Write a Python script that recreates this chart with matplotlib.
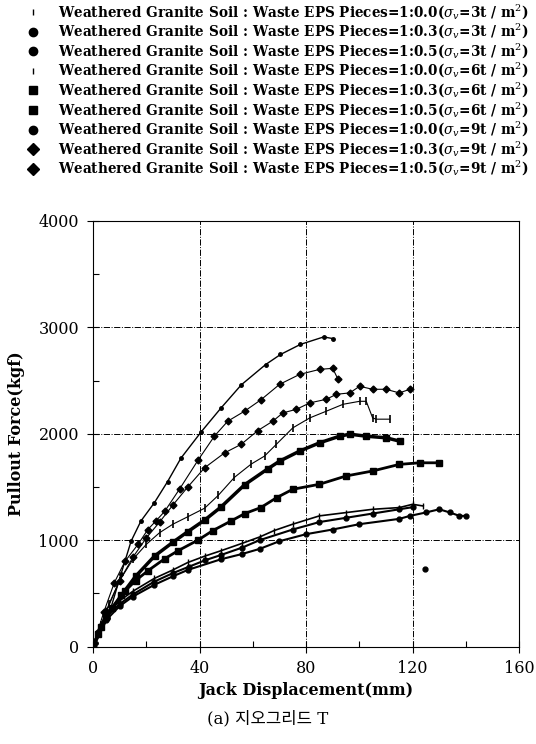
import matplotlib
matplotlib.use("Agg")
import matplotlib.pyplot as plt
from matplotlib.lines import Line2D

plt.rcParams['font.family'] = ['DejaVu Serif', 'Noto Sans CJK KR']
plt.rcParams['mathtext.fontset'] = 'dejavuserif'
plt.rcParams['axes.labelweight'] = 'bold'

# pullout test curves: jack displacement (mm) vs pullout force (kgf)
x_9t_00 = [0, 1, 5.6, 10.5, 14.3, 18, 23, 28, 33, 40.7, 48, 55.7, 64.8, 70.4, 77.9, 86.6, 90]
y_9t_00 = [0, 30, 270, 680, 990, 1180, 1350, 1550, 1770, 2020, 2240, 2460, 2650, 2745, 2840, 2910, 2895]

x_9t_03 = [0, 4, 8, 12, 16.9, 20.6, 23.6, 26.9, 32.5, 39.4, 45.6, 50.6, 56.9, 63.1, 70.1, 77.6, 85.1, 90, 92]
y_9t_03 = [0, 320, 600, 800, 960, 1100, 1180, 1270, 1480, 1750, 1978, 2118, 2212, 2320, 2465, 2558, 2605, 2615, 2512]

x_9t_05 = [0, 5, 10, 15, 20, 25, 30, 35.6, 41.9, 49.4, 55.6, 61.9, 67.5, 71.3, 76.4, 81.4, 87.6, 91.4, 96.4,
           100.1, 105, 110, 115, 119]
y_9t_05 = [0, 330, 620, 840, 1020, 1170, 1330, 1500, 1680, 1820, 1900, 2030, 2118, 2196, 2230, 2290, 2324, 2371, 2384,
           2446, 2418, 2418, 2384, 2418]

x_6t_00 = [0, 3, 6, 10, 15, 20, 25, 30, 35.6, 41.9, 47, 53.1, 59.4, 64.4, 68.9, 75, 81.4, 87.6, 93.9, 100.1,
           102.6, 105, 106.3, 111.4]
y_6t_00 = [0, 200, 400, 620, 820, 960, 1070, 1150, 1220, 1300, 1420, 1590, 1715, 1790, 1902, 2055, 2149, 2212, 2277, 2305,
           2305, 2149, 2137, 2137]

x_6t_03 = [0, 2, 5, 10.6, 16, 23.1, 30, 35.6, 42, 48, 56.9, 65.6, 70.1, 77.6, 85.1, 92.6, 96.4, 102.6, 110, 115.1]
y_6t_03 = [0, 120, 280, 480, 660, 850, 980, 1080, 1190, 1310, 1520, 1670, 1743, 1837, 1915, 1977, 1996, 1977, 1962, 1931]

x_6t_05 = [0, 3, 7, 12, 16, 20.6, 26.9, 31.9, 39.4, 45, 51.9, 57, 63, 69, 75, 85, 95, 105, 115, 122.6, 130]
y_6t_05 = [0, 180, 360, 520, 620, 712, 825, 900, 1000, 1090, 1181, 1250, 1306, 1400, 1478, 1525, 1603, 1650, 1712,
           1727, 1727]

x_3t_00 = [0, 2, 5, 10, 15, 23, 30, 35.6, 42, 48, 56, 62.6, 68, 75, 85, 95, 105, 115, 120, 124]
y_3t_00 = [0, 150, 300, 430, 520, 640, 720, 790, 850, 900, 970, 1030, 1090, 1150, 1228, 1259, 1290, 1306, 1337, 1321]

x_3t_03 = [0, 2, 5, 10, 15, 23, 30, 36, 42, 48, 56, 62.6, 75, 85, 95, 105, 115, 120]
y_3t_03 = [0, 140, 280, 400, 490, 610, 690, 750, 810, 860, 930, 1000, 1100, 1170, 1210, 1250, 1290, 1310]
x_3t_03_last = [124.7]
y_3t_03_last = [728]

x_3t_05 = [0, 2, 5, 10, 15, 23, 30, 35.6, 48, 56, 62.6, 70, 80, 90, 100, 115, 119, 125, 130, 134, 137.6, 140]
y_3t_05 = [0, 120, 250, 380, 470, 580, 660, 720, 820, 870, 918, 990, 1056, 1100, 1150, 1200, 1228, 1260, 1290, 1260,
           1228, 1228]

labels = [
    r'Weathered Granite Soil : Waste EPS Pieces=1:0.0($\sigma_v$=3t / m$^2$)',
    r'Weathered Granite Soil : Waste EPS Pieces=1:0.3($\sigma_v$=3t / m$^2$)',
    r'Weathered Granite Soil : Waste EPS Pieces=1:0.5($\sigma_v$=3t / m$^2$)',
    r'Weathered Granite Soil : Waste EPS Pieces=1:0.0($\sigma_v$=6t / m$^2$)',
    r'Weathered Granite Soil : Waste EPS Pieces=1:0.3($\sigma_v$=6t / m$^2$)',
    r'Weathered Granite Soil : Waste EPS Pieces=1:0.5($\sigma_v$=6t / m$^2$)',
    r'Weathered Granite Soil : Waste EPS Pieces=1:0.0($\sigma_v$=9t / m$^2$)',
    r'Weathered Granite Soil : Waste EPS Pieces=1:0.3($\sigma_v$=9t / m$^2$)',
    r'Weathered Granite Soil : Waste EPS Pieces=1:0.5($\sigma_v$=9t / m$^2$)',
]

fig = plt.figure(figsize=(5.36, 7.44), dpi=100)
ax = fig.add_axes([0.1735, 0.131, 0.795, 0.572])

series = [
    (x_3t_00, y_3t_00, dict(marker='|', ms=4, mew=1.0, lw=1.2)),
    (x_3t_03, y_3t_03, dict(marker='o', ms=3.5, lw=1.5)),
    (x_3t_05, y_3t_05, dict(marker='o', ms=3.5, lw=1.5)),
    (x_6t_00, y_6t_00, dict(marker='|', ms=6, mew=1.2, lw=0.8)),
    (x_6t_03, y_6t_03, dict(marker='s', ms=4, lw=2.5)),
    (x_6t_05, y_6t_05, dict(marker='s', ms=4, lw=2.0)),
    (x_9t_00, y_9t_00, dict(marker='o', ms=2.5, lw=1.0)),
    (x_9t_03, y_9t_03, dict(marker='D', ms=3.5, lw=0.8)),
    (x_9t_05, y_9t_05, dict(marker='D', ms=3.5, lw=0.8)),
]

for xs, ys, st in series:
    ax.plot(xs, ys, color='black', **st)
ax.plot(x_3t_03_last, y_3t_03_last, 'o', color='black', ms=3.5)

ax.set_xlim(0, 160)
ax.set_ylim(0, 4000)
ax.set_xticks([0, 40, 80, 120, 160])
ax.set_yticks([0, 1000, 2000, 3000, 4000])
ax.set_xticks([20, 60, 100, 140], minor=True)
ax.set_yticks([500, 1500, 2500, 3500], minor=True)
ax.tick_params(which='major', direction='inout', length=8, width=0.8, labelsize=11.5, pad=6)
ax.tick_params(which='minor', direction='in', length=4, width=0.8)
ax.grid(True, which='major', color='black', linestyle='-.', linewidth=0.7)
for sp in ax.spines.values():
    sp.set_linewidth(0.8)

ax.set_xlabel('Jack Displacement(mm)', fontsize=11.5, labelpad=3)
ax.set_ylabel('Pullout Force(kgf)', fontsize=11.5, labelpad=10)
fig.text(0.5, 0.034, '(a) 지오그리드 T', ha='center', va='center', fontsize=12)

# legend rows laid out by hand at the top of the figure
for i, ((xs, ys, st), lab) in enumerate(zip(series, labels)):
    yy = 1 - (12 + 19.6 * i) / 744
    mk = st['marker']
    fig.add_artist(Line2D([33 / 536], [yy], transform=fig.transFigure, color='black', linestyle='none',
                          marker=mk, markersize=5 if mk == '|' else 6, mew=1.0))
    fig.text(58 / 536, yy, lab, ha='left', va='center', fontsize=9.85, fontweight='bold')

fig.savefig('out.png', dpi=100)
